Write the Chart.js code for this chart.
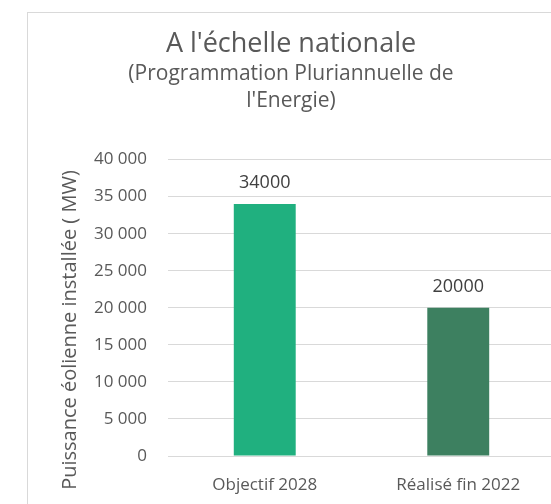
<!DOCTYPE html>
<html>
<head>
<meta charset="utf-8">
<script src="https://cdn.jsdelivr.net/npm/chart.js@4"></script>
<style>
  html, body { margin: 0; padding: 0; background: #fff; overflow: hidden; }
  #wrap { position: absolute; left: 0; top: 0; width: 560px; height: 504px; }
</style>
</head>
<body>
<div id="wrap"><canvas id="c" width="560" height="504"></canvas></div>
<script>
const categories = ["Objectif 2028", "Réalisé fin 2022"];
const values = [34000, 20000];
const barColors = ["#20B07F", "#3D8060"];
const yTickLabels = ["0", "5 000", "10 000", "15 000", "20 000", "25 000", "30 000", "35 000", "40 000"];
const titleText = "A l'échelle nationale";
const subtitleLines = ["(Programmation Pluriannuelle de", "l'Energie)"];
const yAxisTitle = "Puissance éolienne installée ( MW)";

const TEXT = "#595959";
const FONT = "'Open Sans', sans-serif";

const frame = {
  id: 'frame',
  beforeDraw(chart) {
    const ctx = chart.ctx;
    ctx.save();
    ctx.fillStyle = '#fff';
    ctx.fillRect(0, 0, chart.width, chart.height);
    ctx.strokeStyle = '#D9D9D9';
    ctx.lineWidth = 1;
    ctx.strokeRect(27.5, 12.5, 700, 700);
    ctx.restore();
  }
};

const yTitle = {
  id: 'yTitle',
  afterDraw(chart) {
    const ctx = chart.ctx;
    ctx.save();
    ctx.translate(70, 330);
    ctx.rotate(-Math.PI / 2);
    ctx.font = "20px " + FONT;
    ctx.fillStyle = TEXT;
    ctx.textAlign = 'center';
    ctx.textBaseline = 'middle';
    ctx.fillText(yAxisTitle, 0, 0);
    ctx.restore();
  }
};

const dataLabels = {
  id: 'dataLabels',
  afterDatasetsDraw(chart) {
    const ctx = chart.ctx;
    const meta = chart.getDatasetMeta(0);
    ctx.save();
    ctx.font = "18px " + FONT;
    ctx.fillStyle = "#404040";
    ctx.textAlign = 'center';
    ctx.textBaseline = 'middle';
    meta.data.forEach((bar, i) => {
      ctx.fillText(String(chart.data.datasets[0].data[i]), bar.x, bar.y - 21);
    });
    ctx.restore();
  }
};

new Chart(document.getElementById('c'), {
  type: 'bar',
  data: {
    labels: categories,
    datasets: [{
      data: values,
      backgroundColor: barColors,
      borderWidth: 0,
      barPercentage: 0.32,
      categoryPercentage: 1
    }]
  },
  options: {
    responsive: false,
    animation: false,
    layout: { padding: { left: 27, right: 5, top: 0, bottom: 0 } },
    plugins: {
      legend: { display: false },
      tooltip: { enabled: false },
      title: {
        display: true,
        text: titleText,
        color: TEXT,
        font: { family: FONT, size: 27, weight: 'normal', lineHeight: 1.2 },
        padding: { top: 28, bottom: 0 }
      },
      subtitle: {
        display: true,
        text: subtitleLines,
        color: TEXT,
        font: { family: FONT, size: 21, weight: 'normal', lineHeight: 1.29 },
        padding: { top: 0, bottom: 45 }
      }
    },
    scales: {
      x: {
        grid: { display: false },
        border: { display: false },
        ticks: { color: TEXT, font: { family: FONT, size: 17 }, padding: 11, maxRotation: 0 },
        afterFit(scale) { scale.height = 48; }
      },
      y: {
        min: 0,
        max: 40000,
        grid: { color: '#D9D9D9', drawTicks: false },
        border: { display: false },
        ticks: {
          stepSize: 5000,
          color: TEXT,
          font: { family: FONT, size: 17 },
          padding: 21,
          callback: (v, i) => yTickLabels[i]
        },
        afterFit(scale) { scale.width = 141; }
      }
    }
  },
  plugins: [frame, yTitle, dataLabels]
});
</script>
</body>
</html>
